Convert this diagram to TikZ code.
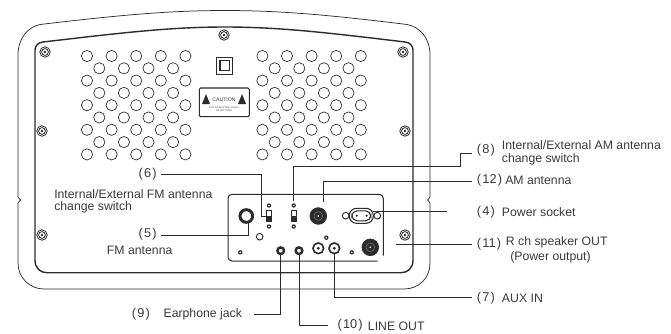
\documentclass[tikz,border=0pt]{standalone}
\usepackage{fontspec}
\setmainfont{Liberation Sans}
\definecolor{inkgray}{HTML}{2B2B2B}
\definecolor{textgray}{HTML}{3A3A3A}
\tikzset{
    caption/.style={anchor=west, inner sep=0pt, text=textgray, font=\fontsize{9.2}{10}\selectfont},
    numlabel/.style={anchor=west, inner sep=0pt, text=textgray, font=\fontsize{9.6}{10}\selectfont},
    leader/.style={line width=0.75pt, color=inkgray},
    part/.style={circle, draw=inkgray, fill=white, inner sep=0pt},
    hole/.style={circle, draw=inkgray, line width=0.5pt, minimum size=8.4pt, inner sep=0pt},
    dot/.style={circle, draw=inkgray, fill=white, line width=1pt, minimum size=4pt, inner sep=0pt},
}
\newcommand{\tightnum}[1]{(\kern0.9pt#1\kern0.9pt)}
\begin{document}
\begin{tikzpicture}[x=0.75pt, y=-0.75pt]
    \useasboundingbox (0,0) rectangle (671,333);
    % outer case
    \draw[line width=0.55pt, color=inkgray] (18,197) -- (20.5,200) -- (18,203) -- (18,263)
        .. controls (18,278) and (30,289) .. (44,289) -- (404,289)
        .. controls (419,289) and (430,278) .. (430,263) -- (430,203) -- (427.7,200) -- (430,197) -- (430,55)
        .. controls (430,38) and (420,27) .. (407,24.5)
        .. controls (330,15) and (280,10.5) .. (225,10.5)
        .. controls (170,10.5) and (120,15) .. (40,24.5)
        .. controls (28,27) and (18,38) .. (18,55) -- cycle;
    % inner plate
    \draw[line width=1.05pt, color=inkgray] (35,50) -- (35,260)
        .. controls (35,268) and (40,272.7) .. (47,272.7) -- (401,272.7)
        .. controls (408,272.7) and (413,268) .. (413,260) -- (413,50)
        .. controls (413,46) and (410,42.5) .. (405,42)
        .. controls (330,33) and (280,27) .. (225,27)
        .. controls (170,27) and (120,33) .. (43,42)
        .. controls (38,42.5) and (35,46) .. (35,50) -- cycle;
    % screws
    \foreach \sx/\sy in {45/52, 224/35, 403/52, 42/131, 405/131, 42/235, 405/235} {
        \draw[line width=0.6pt, color=inkgray] (\sx,\sy) circle (5.2);
        \draw[line width=0.6pt, color=inkgray] (\sx,\sy) circle (3.4);
        \fill[color=inkgray] (\sx,\sy) circle (1.4);
    }
    % vent holes
    \foreach \gx in {0,175.4} {
        \foreach \cx in {87,111.6,136.2,160.8,185.4} {
            \foreach \cy in {56,80.6,105.2,129.8,154.4} {
                \node[hole] at (\cx+\gx,\cy) {};
            }
        }
        \foreach \cx in {99.3,123.9,148.5,173.1} {
            \foreach \cy in {68.3,92.9,117.5,142.1} {
                \node[hole] at (\cx+\gx,\cy) {};
            }
        }
    }
    % double insulation mark
    \draw[line width=0.7pt, color=inkgray] (216.7,57.3) rectangle (232.7,74);
    \draw[line width=0.9pt, color=inkgray] (220,60.7) rectangle (229.3,70.7);
    % caution label
    \draw[line width=0.8pt, color=inkgray, rounded corners=1pt] (199.3,88) rectangle (249.3,116.7);
    \fill[color=inkgray] (202,104) -- (206,94) -- (210,104) -- cycle;
    \fill[color=inkgray] (238,104) -- (242,94) -- (246,104) -- cycle;
    \node[inner sep=0pt, text=textgray, font=\fontsize{3.9}{4}\selectfont] (cautionword) at (224,100) {CAUTION};
    \node[inner sep=0pt, align=center, text=textgray, font=\fontsize{1.7}{2.6}\selectfont] (cautionnote) at (224,109) {RISK OF ELECTRIC SHOCK\\DO NOT OPEN};
    % connector panel
    \draw[line width=0.75pt, color=inkgray, rounded corners=3pt] (377.7,261) -- (228,261) -- (228,194.3) -- (383.3,194.3) -- (383.3,255.7);
    % panel parts
    \node[part, line width=2.2pt, minimum size=9.5pt] (fmant) at (246.3,216) {};
    \node[part, line width=0.5pt, fill=inkgray, minimum size=12.5pt] (amant) at (318.3,216) {};
    \draw[line width=0.35pt, color=gray] (amant) circle (4.4);
    \node[circle, fill=white, minimum size=2.4pt, inner sep=0pt, draw=inkgray, line width=0.5pt] at (amant) {};
    \node[part, line width=0.5pt, fill=inkgray, minimum size=12.5pt] (spkout) at (370.3,247.3) {};
    \draw[line width=0.35pt, color=gray] (spkout) circle (4.4);
    \node[circle, fill=white, minimum size=2.4pt, inner sep=0pt, draw=inkgray, line width=0.5pt] at (spkout) {};
    \node[part, line width=1.2pt, minimum size=8pt] (auxl) at (318.3,248.3) {};
    \fill[color=inkgray] (auxl) circle (1.6);
    \node[part, line width=1.2pt, minimum size=8pt] (auxr) at (334.3,248.3) {};
    \fill[color=inkgray] (auxr) circle (1.6);
    \node[part, line width=1.8pt, minimum size=5pt] (phones) at (280.7,250.7) {};
    \node[part, line width=1.8pt, minimum size=5pt] (lineout) at (299,250.7) {};
    \foreach \cx/\cy in {269/205.5, 269/226.5, 293.7/205.5, 293.7/226.5, 326.3/237.7, 240.3/252.3, 351.7/252.3} {
        \fill[color=inkgray] (\cx,\cy) circle (2.2);
        \fill[color=white] (\cx,\cy) circle (0.9);
    }
    \node[dot, line width=0.7pt, minimum size=5pt] at (259.7,236.7) {};
    \node[dot, line width=0.7pt, minimum size=5pt] at (345.7,215.7) {};
    \node[dot, line width=0.7pt, minimum size=5pt] (sockright) at (377.3,215.7) {};
    % switches
    \node[rectangle, draw=inkgray, line width=0.8pt, fill=white, minimum width=3.9pt, minimum height=8.5pt, inner sep=0pt] (swfm) at (269,216) {};
    \node[rectangle, draw=inkgray, line width=0.8pt, fill=white, minimum width=3.9pt, minimum height=8.5pt, inner sep=0pt] (swam) at (293.7,216) {};
    \fill[color=inkgray] (266.8,216) rectangle (271.2,221);
    \fill[color=inkgray] (291.5,216) rectangle (295.9,221);
    % power socket
    \draw[line width=0.8pt, color=inkgray, fill=white, rounded corners=5.4pt] (349.3,208.3) rectangle (373.3,223.3);
    \draw[line width=0.8pt, color=inkgray, rounded corners=4pt] (351.8,210.8) rectangle (370.8,220.8);
    \fill[color=inkgray] (356.7,215.7) circle (1.2);
    \fill[color=inkgray] (366.7,215.7) circle (1.2);
    % free ends and bends of the leaders
    \coordinate (end5) at (160.7,235.7);
    \coordinate (end6) at (160.7,174.3);
    \coordinate (bend6) at (261.8,216);
    \coordinate (end8) at (471.7,153);
    \coordinate (bend8) at (460,166.7);
    \coordinate (end12) at (471.7,181);
    \coordinate (top12) at (323.3,202);
    \coordinate (end4) at (447,211.7);
    \coordinate (start4) at (373,211.7);
    \coordinate (end11) at (471.7,244);
    \coordinate (start11) at (395.7,244);
    \coordinate (end7) at (471.7,297.7);
    \coordinate (end9) at (253.7,314.3);
    \coordinate (end10) at (328.3,325.3);
    % leaders
    \draw[leader] (end5) -| (248.7,222);
    \draw[leader] (end6) -| (bend6) -- (swfm.west);
    \draw[leader] (end8) -| (bend8) -| (swam.north |- 293.7,201);
    \draw[leader] (end12) -| (top12);
    \draw[leader] (end4) -- (start4);
    \draw[leader] (end11) -- (start11);
    \draw[leader] (end7) -| (auxr.south);
    \draw[leader] (end9) -| (phones.south);
    \draw[leader] (end10) -| (lineout.south);
    % labels
    \node[numlabel] (num6) at (138.3,174) {\tightnum{6}};
    \node[caption] (capfmswa) at (54,194) {Internal/External FM  antenna};
    \node[caption] (capfmswb) at (54,207.7) {change switch};
    \node[numlabel] (num5) at (138.3,234) {\tightnum{5}};
    \node[caption] (capfm) at (106.7,250.7) {FM antenna};
    \node[numlabel] (num9) at (131.7,314) {\tightnum{9}};
    \node[caption] (capear) at (163.3,314) {Earphone jack};
    \node[numlabel] (num10) at (337.3,325) {\tightnum{10}};
    \node[caption] (capline) at (367.7,326) {LINE OUT};
    \node[numlabel] (num8) at (476.7,150) {\tightnum{8}};
    \node[caption] (capamswa) at (501.7,145) {Internal/External AM antenna};
    \node[caption] (capamswb) at (501.7,159.7) {change switch};
    \node[numlabel] (num12) at (476.7,180) {\tightnum{12}};
    \node[caption] (capam) at (505,180.6) {AM antenna};
    \node[numlabel] (num4) at (476.7,212.3) {\tightnum{4}};
    \node[caption] (capsock) at (501.7,212.3) {Power socket};
    \node[numlabel] (num11) at (476.7,244) {\tightnum{11}};
    \node[caption] (capspka) at (505.7,242.3) {R ch speaker OUT};
    \node[caption] (capspkb) at (510,257.7) {(Power output)};
    \node[numlabel] (num7) at (476.7,298) {\tightnum{7}};
    \node[caption] (capaux) at (501.7,298) {AUX IN};
\end{tikzpicture}
\end{document}
